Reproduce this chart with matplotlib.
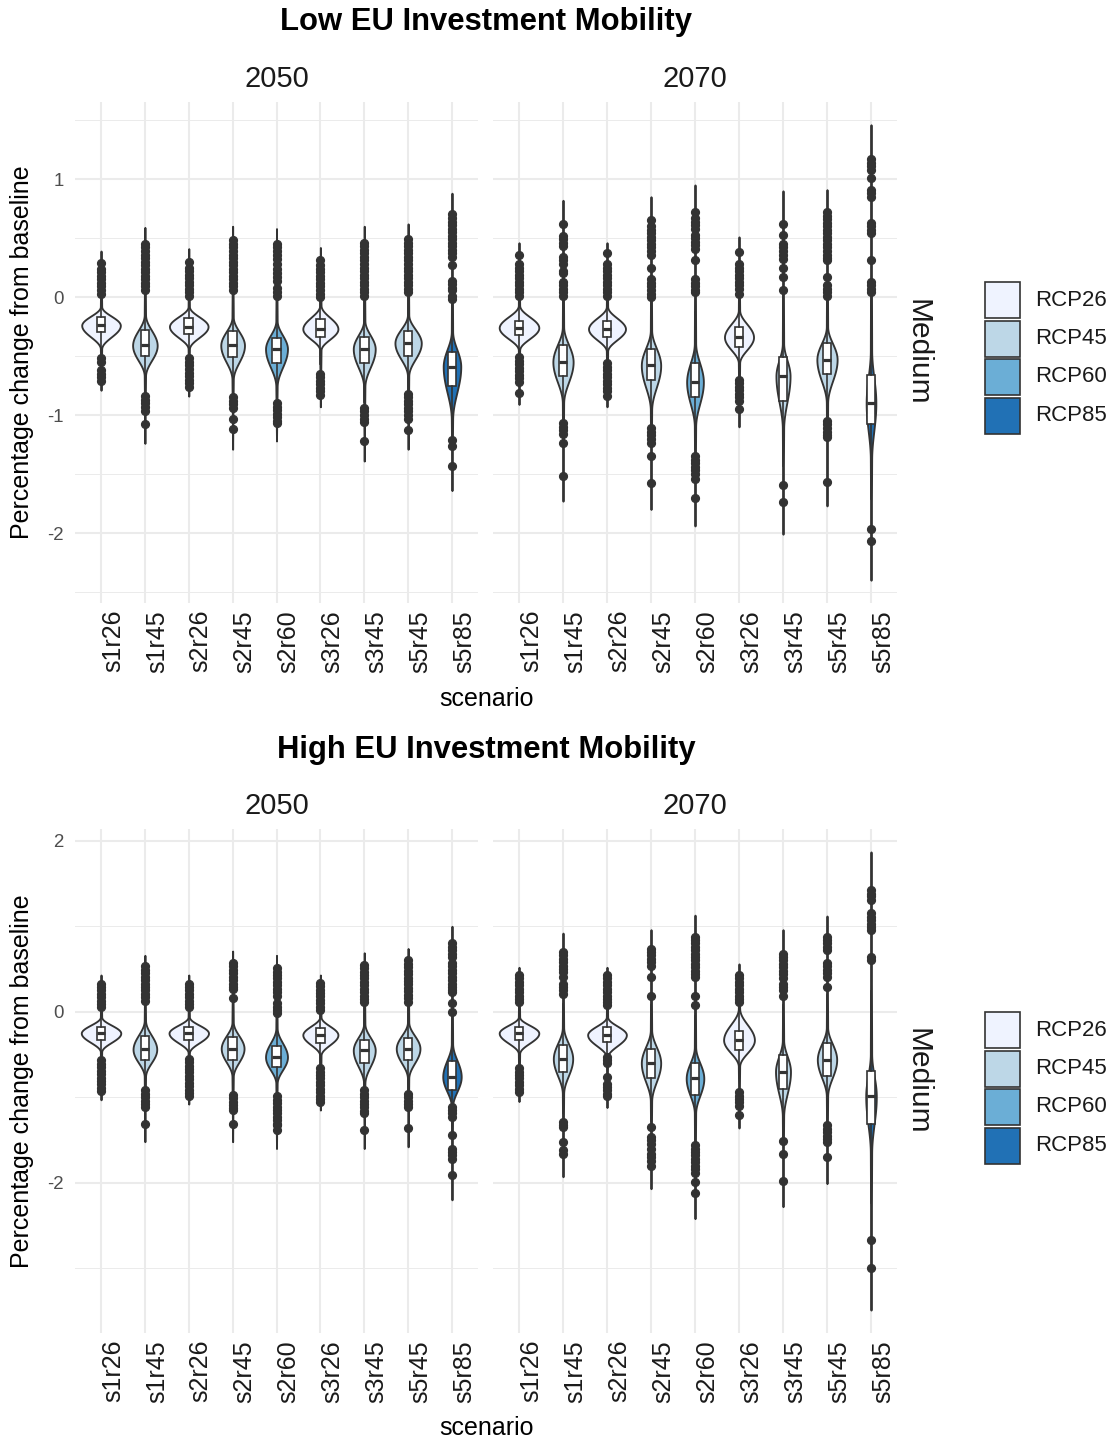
import numpy as np
import matplotlib.pyplot as plt
from matplotlib.patches import Rectangle
from matplotlib.ticker import MultipleLocator

plt.rcParams["font.family"] = ["Liberation Sans", "DejaVu Sans"]
plt.rcParams["axes.unicode_minus"] = False

SCENARIOS = ["s1r26", "s1r45", "s2r26", "s2r45", "s2r60", "s3r26", "s3r45", "s5r45", "s5r85"]
SCENARIO_RCP = ["RCP26", "RCP45", "RCP26", "RCP45", "RCP60", "RCP26", "RCP45", "RCP45", "RCP85"]
RCP_LABELS = ["RCP26", "RCP45", "RCP60", "RCP85"]
RCP_COLORS = ["#EFF3FF", "#BDD7E7", "#6BAED6", "#2171B5"]
YEARS = ["2050", "2070"]

# violin extent (min, max), dense body (low, high), box (q1, median, q3),
# half width of the violin at its peak, and points outside the whiskers

LOW_2050_TAIL = [(-0.79, 0.39), (-1.24, 0.59), (-0.84, 0.41), (-1.29, 0.60), (-1.22, 0.58),
                 (-0.93, 0.42), (-1.39, 0.60), (-1.29, 0.62), (-1.64, 0.88)]
LOW_2050_BODY = [(-0.44, -0.08), (-0.67, -0.15), (-0.44, -0.08), (-0.70, -0.17), (-0.76, -0.20),
                 (-0.45, -0.07), (-0.76, -0.20), (-0.67, -0.15), (-1.04, -0.29)]
LOW_2050_BOX = [(-0.30, -0.24, -0.17), (-0.50, -0.41, -0.28), (-0.31, -0.25, -0.18),
                (-0.51, -0.41, -0.29), (-0.56, -0.44, -0.35), (-0.34, -0.27, -0.19),
                (-0.56, -0.44, -0.34), (-0.50, -0.39, -0.29), (-0.75, -0.59, -0.47)]
LOW_2050_WIDTH = [0.44, 0.28, 0.44, 0.27, 0.25, 0.40, 0.25, 0.30, 0.20]
LOW_2050_OUTLIERS = [
    [0.29, 0.24, 0.21, 0.18, 0.15, 0.12, 0.09, 0.06, 0.03, -0.52, -0.55, -0.62, -0.65, -0.68, -0.71],
    [0.45, 0.42, 0.39, 0.36, 0.33, 0.30, 0.27, 0.24, 0.21, 0.18, 0.15, 0.12, 0.09, 0.06,
     -0.84, -0.87, -0.90, -0.93, -0.97, -1.08],
    [0.30, 0.25, 0.22, 0.19, 0.16, 0.13, 0.10, 0.07, 0.04, 0.01,
     -0.52, -0.55, -0.58, -0.61, -0.64, -0.67, -0.70, -0.73, -0.76],
    [0.48, 0.45, 0.42, 0.39, 0.36, 0.33, 0.30, 0.27, 0.24, 0.21, 0.18, 0.15, 0.12, 0.09, 0.06,
     -0.85, -0.88, -0.91, -0.94, -1.03, -1.12],
    [0.45, 0.42, 0.39, 0.36, 0.32, 0.28, 0.24, 0.20, 0.17, 0.14, 0.08, 0.04, 0.01,
     -0.90, -0.93, -0.96, -0.99, -1.02, -1.05, -1.07],
    [0.31, 0.27, 0.24, 0.21, 0.18, 0.15, 0.12, 0.09, 0.06, 0.03, 0.00,
     -0.65, -0.68, -0.71, -0.74, -0.77, -0.80, -0.83],
    [0.46, 0.43, 0.40, 0.37, 0.34, 0.31, 0.28, 0.25, 0.22, 0.19, 0.16, 0.13, 0.10, 0.07, 0.04, 0.01,
     -0.94, -0.97, -1.00, -1.03, -1.06, -1.22],
    [0.49, 0.46, 0.43, 0.40, 0.37, 0.34, 0.31, 0.28, 0.25, 0.22, 0.19, 0.16, 0.13, 0.10, 0.07, 0.04,
     -0.82, -0.85, -0.88, -0.91, -0.94, -0.97, -1.00, -1.03, -1.13],
    [0.70, 0.67, 0.64, 0.61, 0.58, 0.55, 0.52, 0.49, 0.46, 0.43, 0.40, 0.37, 0.34, 0.27,
     0.14, 0.11, 0.08, 0.06, 0.01, -0.02, -1.21, -1.26, -1.43],
]

LOW_2070_TAIL = [(-0.91, 0.46), (-1.73, 0.82), (-0.93, 0.46), (-1.80, 0.85), (-1.94, 0.95),
                 (-1.10, 0.51), (-2.01, 0.90), (-1.77, 0.91), (-2.40, 1.46)]
LOW_2070_BODY = [(-0.45, -0.07), (-0.90, -0.25), (-0.46, -0.08), (-0.96, -0.28), (-1.10, -0.39),
                 (-0.56, -0.11), (-1.12, -0.39), (-0.90, -0.25), (-1.38, -0.45)]
LOW_2070_BOX = [(-0.32, -0.26, -0.20), (-0.67, -0.55, -0.41), (-0.34, -0.27, -0.20),
                (-0.70, -0.58, -0.44), (-0.85, -0.72, -0.56), (-0.42, -0.34, -0.25),
                (-0.88, -0.67, -0.51), (-0.65, -0.53, -0.39), (-1.08, -0.90, -0.66)]
LOW_2070_WIDTH = [0.45, 0.23, 0.42, 0.22, 0.19, 0.33, 0.16, 0.23, 0.11]
LOW_2070_OUTLIERS = [
    [0.36, 0.28, 0.25, 0.22, 0.19, 0.16, 0.13, 0.10, 0.07, 0.04, 0.01,
     -0.51, -0.54, -0.57, -0.60, -0.63, -0.66, -0.69, -0.72, -0.81],
    [0.62, 0.52, 0.49, 0.46, 0.43, 0.34, 0.31, 0.28, 0.22, 0.20, 0.13, 0.10, 0.07, 0.04, 0.01,
     -1.07, -1.10, -1.13, -1.16, -1.24, -1.52],
    [0.37, 0.28, 0.25, 0.22, 0.19, 0.16, 0.13, 0.10, 0.07, 0.04, 0.01,
     -0.56, -0.59, -0.62, -0.65, -0.68, -0.71, -0.74, -0.77, -0.80, -0.84],
    [0.65, 0.60, 0.57, 0.54, 0.51, 0.48, 0.45, 0.42, 0.39, 0.36, 0.25, 0.15, 0.12, 0.09, 0.06, 0.03, 0.00,
     -1.11, -1.14, -1.17, -1.20, -1.24, -1.35, -1.58],
    [0.72, 0.67, 0.64, 0.61, 0.58, 0.53, 0.50, 0.47, 0.44, 0.41, 0.31, 0.15, 0.12, 0.09, 0.06, 0.04,
     -1.35, -1.38, -1.41, -1.44, -1.47, -1.50, -1.54, -1.70],
    [0.38, 0.28, 0.25, 0.22, 0.19, 0.16, 0.13, 0.10, 0.07, 0.03,
     -0.70, -0.73, -0.76, -0.79, -0.82, -0.85, -0.88, -0.95],
    [0.62, 0.53, 0.45, 0.42, 0.39, 0.36, 0.32, 0.25, 0.17, 0.06, -1.59, -1.74],
    [0.72, 0.69, 0.66, 0.63, 0.60, 0.57, 0.54, 0.51, 0.48, 0.45, 0.42, 0.39, 0.36, 0.33, 0.31,
     0.17, 0.10, 0.07, 0.04, 0.01, -1.05, -1.08, -1.11, -1.14, -1.17, -1.19, -1.57],
    [1.17, 1.14, 1.11, 1.08, 1.01, 0.91, 0.88, 0.85, 0.63, 0.60, 0.57, 0.54, 0.31,
     0.13, 0.10, 0.07, 0.04, -1.97, -2.07],
]

HIGH_2050_TAIL = [(-1.03, 0.43), (-1.52, 0.66), (-1.08, 0.43), (-1.52, 0.71), (-1.60, 0.66),
                  (-1.15, 0.43), (-1.60, 0.69), (-1.58, 0.74), (-2.20, 1.00)]
HIGH_2050_BODY = [(-0.47, -0.06), (-0.76, -0.10), (-0.48, -0.06), (-0.76, -0.12), (-0.84, -0.19),
                  (-0.51, -0.06), (-0.84, -0.14), (-0.78, -0.12), (-1.11, -0.37)]
HIGH_2050_BOX = [(-0.33, -0.25, -0.18), (-0.56, -0.44, -0.28), (-0.33, -0.25, -0.18),
                 (-0.56, -0.43, -0.30), (-0.65, -0.53, -0.40), (-0.36, -0.27, -0.19),
                 (-0.60, -0.45, -0.33), (-0.56, -0.43, -0.31), (-0.91, -0.76, -0.58)]
HIGH_2050_WIDTH = [0.45, 0.27, 0.45, 0.26, 0.25, 0.40, 0.25, 0.27, 0.21]
HIGH_2050_OUTLIERS = [
    [0.33, 0.29, 0.25, 0.21, 0.17, 0.13, 0.09, 0.05,
     -0.57, -0.61, -0.65, -0.69, -0.73, -0.77, -0.81, -0.85, -0.89, -0.93],
    [0.53, 0.49, 0.45, 0.41, 0.37, 0.33, 0.29, 0.25, 0.21, 0.17, 0.13,
     -0.92, -0.96, -1.00, -1.04, -1.08, -1.11, -1.31],
    [0.33, 0.29, 0.25, 0.21, 0.17, 0.13, 0.09, 0.06,
     -0.55, -0.59, -0.63, -0.67, -0.71, -0.75, -0.79, -0.83, -0.87, -0.91, -0.95, -0.99],
    [0.57, 0.53, 0.49, 0.45, 0.41, 0.37, 0.33, 0.29, 0.27, 0.16,
     -0.97, -1.01, -1.05, -1.09, -1.13, -1.15, -1.31],
    [0.51, 0.47, 0.43, 0.39, 0.35, 0.31, 0.27, 0.23, 0.18, 0.10, 0.06, 0.02, -0.02,
     -0.99, -1.03, -1.07, -1.11, -1.15, -1.19, -1.23, -1.27, -1.31, -1.33, -1.38],
    [0.34, 0.30, 0.26, 0.22, 0.18, 0.14, 0.10, 0.06, 0.02,
     -0.66, -0.70, -0.74, -0.78, -0.82, -0.86, -0.90, -0.94, -0.98, -1.02, -1.05],
    [0.55, 0.51, 0.47, 0.43, 0.39, 0.35, 0.31, 0.27, 0.23, 0.19, 0.15, 0.12,
     -0.92, -0.96, -1.00, -1.04, -1.08, -1.12, -1.16, -1.19, -1.38],
    [0.60, 0.56, 0.52, 0.48, 0.44, 0.40, 0.36, 0.32, 0.28, 0.24, 0.20, 0.16, 0.12,
     -0.96, -1.00, -1.04, -1.08, -1.11, -1.36],
    [0.80, 0.76, 0.72, 0.68, 0.64, 0.57, 0.53, 0.49, 0.45, 0.41, 0.37, 0.33, 0.29, 0.25, 0.23,
     0.10, 0.00, -1.11, -1.15, -1.19, -1.23, -1.44, -1.60, -1.64, -1.68, -1.72, -1.91],
]

HIGH_2070_TAIL = [(-1.05, 0.52), (-1.93, 0.92), (-1.12, 0.52), (-2.07, 0.96), (-2.42, 1.13),
                  (-1.36, 0.56), (-2.28, 0.96), (-2.01, 1.12), (-3.49, 1.87)]
HIGH_2070_BODY = [(-0.49, -0.06), (-0.96, -0.18), (-0.53, -0.06), (-1.05, -0.21), (-1.19, -0.41),
                  (-0.64, 0.04), (-1.23, -0.33), (-0.99, -0.18), (-1.66, -0.49)]
HIGH_2070_BOX = [(-0.33, -0.25, -0.18), (-0.71, -0.55, -0.39), (-0.35, -0.27, -0.18),
                 (-0.77, -0.60, -0.43), (-0.97, -0.78, -0.60), (-0.45, -0.33, -0.23),
                 (-0.90, -0.70, -0.51), (-0.75, -0.56, -0.37), (-1.31, -0.99, -0.69)]
HIGH_2070_WIDTH = [0.45, 0.22, 0.44, 0.22, 0.20, 0.35, 0.17, 0.22, 0.12]
HIGH_2070_OUTLIERS = [
    [0.43, 0.39, 0.35, 0.31, 0.27, 0.23, 0.19, 0.15, 0.12,
     -0.66, -0.70, -0.74, -0.78, -0.82, -0.86, -0.90, -0.94],
    [0.70, 0.66, 0.62, 0.58, 0.54, 0.50, 0.46, 0.41, 0.33, 0.29, 0.25, 0.21,
     -1.29, -1.32, -1.35, -1.52, -1.62, -1.66],
    [0.43, 0.39, 0.35, 0.31, 0.27, 0.23, 0.19, 0.15, 0.11, 0.08,
     -0.53, -0.57, -0.60, -0.76, -0.84, -0.88, -0.92, -0.96, -0.99],
    [0.74, 0.70, 0.66, 0.62, 0.58, 0.53, 0.41, 0.19,
     -1.35, -1.46, -1.50, -1.55, -1.60, -1.66, -1.70, -1.75, -1.81],
    [0.88, 0.84, 0.80, 0.76, 0.72, 0.68, 0.64, 0.60, 0.56, 0.52, 0.48, 0.44, 0.41, 0.19, 0.08,
     -1.56, -1.60, -1.64, -1.68, -1.72, -1.76, -1.80, -1.84, -1.89, -1.99, -2.12],
    [0.43, 0.39, 0.35, 0.31, 0.27, 0.23, 0.19, 0.15, 0.12,
     -0.94, -0.98, -1.02, -1.06, -1.10, -1.21],
    [0.68, 0.64, 0.60, 0.56, 0.52, 0.48, 0.44, 0.40, 0.33, 0.29, 0.25, 0.18, -1.51, -1.66, -1.98],
    [0.88, 0.84, 0.80, 0.76, 0.72, 0.57, 0.53, 0.49, 0.45, 0.41, 0.29,
     -1.33, -1.37, -1.41, -1.45, -1.49, -1.52, -1.70],
    [1.42, 1.38, 1.35, 1.31, 1.15, 1.11, 1.07, 1.03, 0.99, 0.96, 0.64, 0.60, -2.67, -3.00],
]

LOW_PANELS = [
    (LOW_2050_TAIL, LOW_2050_BODY, LOW_2050_BOX, LOW_2050_WIDTH, LOW_2050_OUTLIERS),
    (LOW_2070_TAIL, LOW_2070_BODY, LOW_2070_BOX, LOW_2070_WIDTH, LOW_2070_OUTLIERS),
]
HIGH_PANELS = [
    (HIGH_2050_TAIL, HIGH_2050_BODY, HIGH_2050_BOX, HIGH_2050_WIDTH, HIGH_2050_OUTLIERS),
    (HIGH_2070_TAIL, HIGH_2070_BODY, HIGH_2070_BOX, HIGH_2070_WIDTH, HIGH_2070_OUTLIERS),
]

W, H = 1115, 1440
DARK = "#333333"
GRID = "#EBEBEB"
TAIL_W = 0.015

fig = plt.figure(figsize=(W / 100, H / 100), dpi=100)


def fig_rect(x0, y0, x1, y1):
    return [x0 / W, 1 - y1 / H, (x1 - x0) / W, (y1 - y0) / H]


def violin_profile(tail, body, med, width):
    y1 = np.linspace(tail[0], body[0], 20)
    w1 = TAIL_W * (y1 - tail[0]) / (body[0] - tail[0])
    y2 = np.linspace(body[0], med, 40)
    t = (y2 - body[0]) / (med - body[0])
    w2 = TAIL_W + (width - TAIL_W) * (1 - np.cos(np.pi * t)) / 2
    y3 = np.linspace(med, body[1], 40)
    t = (body[1] - y3) / (body[1] - med)
    w3 = TAIL_W + (width - TAIL_W) * (1 - np.cos(np.pi * t)) / 2
    y4 = np.linspace(body[1], tail[1], 20)
    w4 = TAIL_W * (tail[1] - y4) / (tail[1] - body[1])
    return np.concatenate([y1, y2, y3, y4]), np.concatenate([w1, w2, w3, w4])


def draw_panel(ax, panel, ylim, step):
    tails, bodies, boxes, widths, outliers = panel
    for i in range(len(SCENARIOS)):
        x = i + 1
        q1, med, q3 = boxes[i]
        color = RCP_COLORS[RCP_LABELS.index(SCENARIO_RCP[i])]
        ys, half = violin_profile(tails[i], bodies[i], med, widths[i])
        ax.fill_betweenx(ys, x - half, x + half, facecolor=color, edgecolor=DARK,
                         linewidth=1.35, zorder=2)
        iqr = q3 - q1
        stats = {
            "q1": q1, "med": med, "q3": q3,
            "whislo": max(q1 - 1.5 * iqr, tails[i][0]),
            "whishi": min(q3 + 1.5 * iqr, tails[i][1]),
            "fliers": np.array(outliers[i]),
        }
        ax.bxp([stats], positions=[x], widths=0.2, patch_artist=True, showcaps=False,
               manage_ticks=False, zorder=3,
               boxprops=dict(facecolor="white", edgecolor=DARK, linewidth=1.2),
               medianprops=dict(color=DARK, linewidth=2.3),
               whiskerprops=dict(color=DARK, linewidth=1.2),
               flierprops=dict(marker="o", markerfacecolor=DARK, markeredgecolor=DARK,
                               markersize=5.6, linestyle="none"))

    ax.set_xlim(0.4, len(SCENARIOS) + 0.6)
    ax.set_ylim(*ylim)
    ax.set_xticks(range(1, len(SCENARIOS) + 1))
    ax.set_xticklabels(SCENARIOS, rotation=90, ha="left", va="top",
                       fontsize=18, color="#1A1A1A")
    ax.yaxis.set_major_locator(MultipleLocator(step))
    ax.yaxis.set_minor_locator(MultipleLocator(step / 2))
    ax.tick_params(axis="both", which="both", length=0)
    ax.tick_params(axis="x", pad=5)
    ax.tick_params(axis="y", labelsize=13.4, labelcolor="#4D4D4D", pad=8)
    ax.grid(True, which="major", color=GRID, linewidth=1.45)
    ax.grid(True, which="minor", axis="y", color=GRID, linewidth=0.72)
    ax.set_axisbelow(True)
    for spine in ax.spines.values():
        spine.set_visible(False)


BLOCKS = [
    # title, panels, y step, title baseline, strip baseline, panel top/bottom, axis title y, legend top
    ("Low EU Investment Mobility", LOW_PANELS, 1, 30, 87, 102, 603, 699, 282),
    ("High EU Investment Mobility", HIGH_PANELS, 2, 758, 814, 829, 1333, 1428, 1012),
]
PANEL_X = [(74.7, 478.3), (492.6, 897.4)]

for title, panels, step, title_y, strip_y, top, bottom, xlab_y, leg_y in BLOCKS:
    lo = min(t[0] for p in panels for t in p[0])
    hi = max(t[1] for p in panels for t in p[0])
    pad = 0.05 * (hi - lo)
    ylim = (lo - pad, hi + pad)

    for j, panel in enumerate(panels):
        x0, x1 = PANEL_X[j]
        ax = fig.add_axes(fig_rect(x0, top, x1, bottom))
        draw_panel(ax, panel, ylim, step)
        if j > 0:
            ax.tick_params(axis="y", labelleft=False)
        fig.text((x0 + x1) / 2 / W, 1 - strip_y / H, YEARS[j], fontsize=21,
                 color="#1A1A1A", ha="center", va="baseline")

    mid_x = (PANEL_X[0][0] + PANEL_X[1][1]) / 2
    fig.text(mid_x / W, 1 - title_y / H, title, fontsize=22.3, fontweight="bold",
             ha="center", va="baseline")
    fig.text(mid_x / W, 1 - xlab_y / H, "scenario", fontsize=18, ha="center", va="center")
    fig.text(22.5 / W, 1 - (top + bottom) / 2 / H, "Percentage change from baseline",
             fontsize=18, rotation=90, ha="center", va="center")
    fig.text(918 / W, 1 - (top + bottom) / 2 / H, "Medium", fontsize=21.5, color="#1A1A1A",
             rotation=270, ha="center", va="center")

    # fill legend
    for k, (label, color) in enumerate(zip(RCP_LABELS, RCP_COLORS)):
        ky = leg_y + k * 38.5
        fig.add_artist(Rectangle((985 / W, 1 - (ky + 36) / H), 35 / W, 36 / H,
                                 transform=fig.transFigure, facecolor=color,
                                 edgecolor=DARK, linewidth=1.2))
        fig.text(1035 / W, 1 - (ky + 18) / H, label, fontsize=16, color="#1A1A1A",
                 ha="left", va="center")

fig.savefig("out.png", dpi=100)
